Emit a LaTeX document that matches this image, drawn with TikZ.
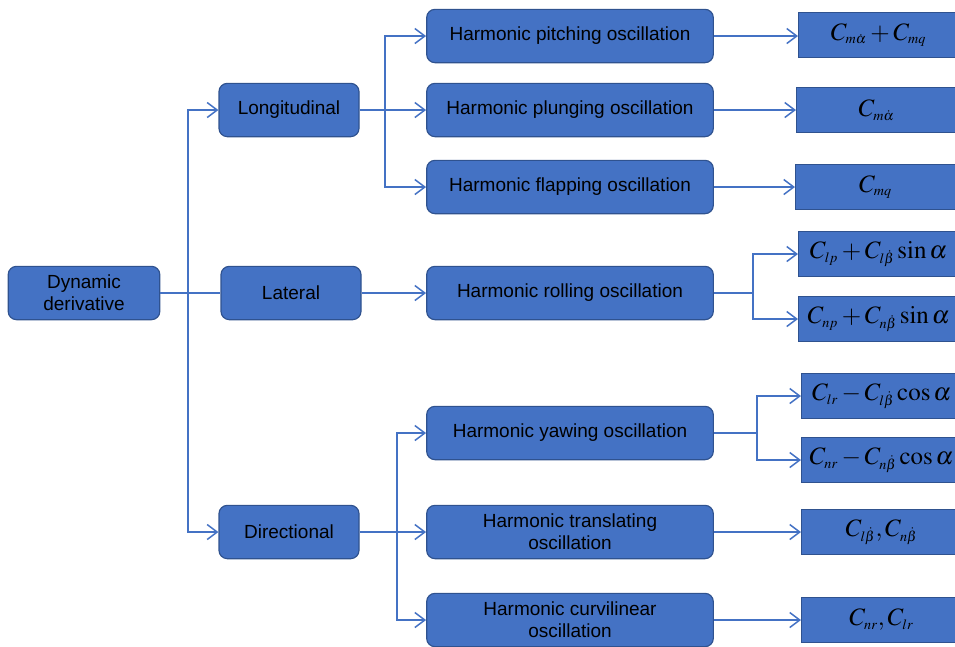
\documentclass[tikz,border=0pt]{standalone}
\usepackage{mathptmx}
\usepackage{fontspec}
\setmainfont{Liberation Sans}
\usepackage{tikz}
\usetikzlibrary{arrows.meta}
\DeclareMathSizes{15}{15}{8.5}{6}

\definecolor{boxblue}{HTML}{4472C4}
\definecolor{edgeblue}{HTML}{2F528F}

\tikzset{
  rbox/.style={draw=edgeblue, fill=boxblue, rounded corners=5pt, line width=0.7pt,
    minimum height=32pt, align=center, text=black, font=\fontsize{11.4}{13.2}\selectfont, inner sep=2pt},
  kbox/.style={rbox, minimum width=84pt},
  hbox/.style={rbox, minimum width=172pt},
  cbox/.style={draw=edgeblue, fill=boxblue, line width=0.7pt, minimum width=96pt,
    minimum height=27pt, anchor=west, text=black, font=\fontsize{15}{18}\selectfont},
  link/.style={draw=boxblue, line width=0.9pt},
  arr/.style={link, -{Straight Barb[length=6pt,width=9pt,line width=0.9pt]}}
}

\begin{document}
\begin{tikzpicture}[x=0.6pt,y=-0.6pt]
\useasboundingbox (0,0) rectangle (955,646);

% raiz
\node[rbox, minimum width=91pt] (dyn) at (84,293) {Dynamic\\derivative};

% segundo nivel
\node[kbox] (lon) at (289,110) {Longitudinal};
\node[kbox] (lat) at (291,293) {Lateral};
\node[kbox] (dir) at (289,532) {Directional};

% oscilaciones
\node[hbox] (pit) at (570,36) {Harmonic pitching oscillation};
\node[hbox] (plu) at (570,110) {Harmonic plunging oscillation};
\node[hbox] (fla) at (570,187) {Harmonic flapping oscillation};
\node[hbox] (rol) at (570,293) {Harmonic rolling oscillation};
\node[hbox] (yaw) at (570,433) {Harmonic yawing oscillation};
\node[hbox] (tra) at (570,532) {Harmonic translating\\oscillation};
\node[hbox] (cur) at (570,620) {Harmonic curvilinear\\oscillation};

% derivadas
\node[cbox] (cpit) at (798,35) {$C_{m\dot\alpha}+C_{mq}$};
\node[cbox] (cplu) at (796,110) {$C_{m\dot\alpha}$};
\node[cbox] (cfla) at (795,187) {$C_{mq}$};
\node[cbox] (clp) at (798,254) {$C_{lp}+C_{l\dot\beta}\sin\alpha$};
\node[cbox] (cnp) at (798,319) {$C_{np}+C_{n\dot\beta}\sin\alpha$};
\node[cbox] (clr) at (801,396) {$C_{lr}-C_{l\dot\beta}\cos\alpha$};
\node[cbox] (cnr) at (801,460) {$C_{nr}-C_{n\dot\beta}\cos\alpha$};
\node[cbox] (ctra) at (801,532) {$C_{l\dot\beta},C_{n\dot\beta}$};
\node[cbox] (ccur) at (801,620) {$C_{nr},C_{lr}$};

% ramas
\coordinate (j1) at (188,293);
\coordinate (j2) at (385,110);
\coordinate (j3) at (397,532);
\coordinate (j4) at (753,293);
\coordinate (j5) at (757,433);

\draw[link] (dyn) -- (lat);
\draw[arr] (j1) |- (lon.west);
\draw[arr] (j1) |- (dir.west);

\draw[arr] (lon) -- (plu);
\draw[arr] (j2) |- (pit.west);
\draw[arr] (j2) |- (fla.west);

\draw[arr] (lat) -- (rol);
\draw[arr] (dir) -- (tra);
\draw[arr] (j3) |- (yaw.west);
\draw[arr] (j3) |- (cur.west);

\draw[arr] (pit) -- (pit.east -| cpit.west);
\draw[arr] (plu) -- (cplu);
\draw[arr] (fla) -- (cfla);
\draw[link] (rol) -- (j4);
\draw[arr] (j4) |- (clp.west);
\draw[arr] (j4) |- (cnp.west);
\draw[link] (yaw) -- (j5);
\draw[arr] (j5) |- (clr.west);
\draw[arr] (j5) |- (cnr.west);
\draw[arr] (tra) -- (ctra);
\draw[arr] (cur) -- (ccur);
\end{tikzpicture}
\end{document}
